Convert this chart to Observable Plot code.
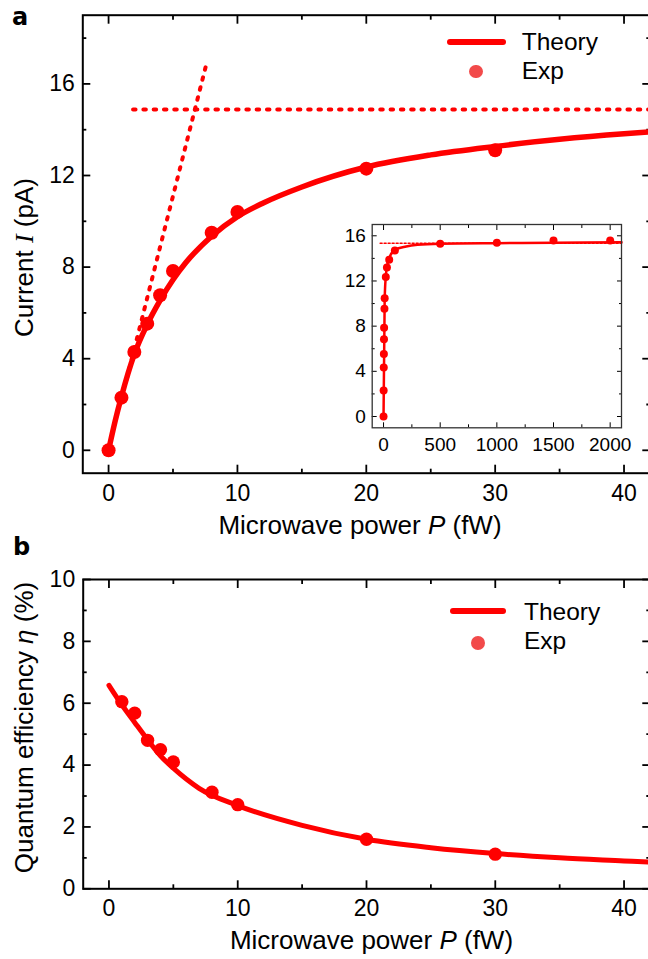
<!DOCTYPE html>
<html><head><meta charset="utf-8">
<script src="https://cdn.jsdelivr.net/npm/d3@7"></script>
<script src="https://cdn.jsdelivr.net/npm/@observablehq/plot@0.6"></script>
<style>
html,body{margin:0;padding:0;background:#fff;overflow:hidden}
#fig{position:relative;width:648px;height:959px;overflow:hidden;background:#fff;font-family:"Liberation Sans",Arial,Helvetica,sans-serif}
#fig > *{position:absolute}
.leg-line{height:6px;border-radius:3px;background:#ff0000}
.leg-dot{border-radius:50%;background:#f24a4a}
</style></head><body><div id="fig"></div>
<script>
// ---------- data ----------
// panel a: current vs microwave power
const powerExp = [0, 1, 2, 3, 4, 5, 8, 10, 20, 30];
const currentExp = [0, 2.30, 4.29, 5.53, 6.77, 7.83, 9.50, 10.41, 12.30, 13.10];
const powerTheory = [0, 0.5, 1, 2, 3, 4, 5, 6, 8, 10, 12, 15, 20, 25, 30, 35, 40, 42];
const currentTheory = [0, 1.25, 2.35, 4.2, 5.5, 6.55, 7.45, 8.2, 9.35, 10.2, 10.8, 11.5, 12.37, 12.9, 13.27, 13.58, 13.82, 13.9];
const slopePower = [1.4, 7.56];
const slopeCurrent = [3.1, 16.8];
const saturationPower = [1.9, 42];
const saturationCurrent = [14.88, 14.88];
// inset
const insetPowerExp = [0, 1, 2, 3, 4, 5, 8, 10, 20, 30, 50, 100, 500, 1000, 1500, 2000];
const insetCurrentExp = [0, 2.31, 4.33, 5.54, 6.84, 7.85, 9.54, 10.46, 12.36, 13.19, 13.87, 14.7, 15.29, 15.38, 15.59, 15.59];
const insetPowerTheory = [0, 10, 20, 30, 50, 100, 200, 300, 500, 1000, 1500, 2100];
const insetCurrentTheory = [0, 10.3, 12.4, 13.25, 14.0, 14.75, 15.05, 15.2, 15.3, 15.35, 15.38, 15.42];
const insetSatPower = [-30, 2100];
const insetSatCurrent = [15.35, 15.35];
// panel b: quantum efficiency
const effPowerExp = [1, 2, 3, 4, 5, 8, 10, 20, 30];
const effExp = [6.05, 5.68, 4.8, 4.5, 4.1, 3.12, 2.72, 1.6, 1.12];
const effPowerTheory = [0, 1, 2, 3, 4, 5, 7, 10, 15, 20, 25, 30, 35, 40, 42];
const effTheory = [6.58, 5.95, 5.38, 4.82, 4.3, 3.9, 3.25, 2.69, 2.05, 1.6, 1.33, 1.14, 1.0, 0.9, 0.86];
// ticks
const xMajor = [0, 10, 20, 30, 40];
const xMinor = [5, 15, 25, 35];
const yMajorA = [0, 4, 8, 12, 16];
const yMinorA = [2, 6, 10, 14, 18];
const yMajorB = [0, 2, 4, 6, 8, 10];
const yMinorB = [1, 3, 5, 7, 9];
const insetXMajor = [0, 500, 1000, 1500, 2000];
const insetXMinor = [250, 750, 1250, 1750];
const insetYMajor = [0, 4, 8, 12, 16];
const insetYMinor = [2, 6, 10, 14];

const RED = "#ff0000";
const FONT = '"Liberation Sans", Arial, Helvetica, sans-serif';
const none = () => "";
const plain = (d) => String(d);
const zip = (xs, ys) => xs.map((x, i) => ({x, y: ys[i]}));

function axes({xMaj, xMin, yMaj, yMin, major, minor, fontSize, xPad, yPad, sw}) {
  const common = {label: null, strokeWidth: sw, fontSize};
  return [
    Plot.axisX({...common, anchor: "bottom", ticks: xMaj, tickSize: -major, tickPadding: xPad, tickFormat: plain}),
    Plot.axisX({...common, anchor: "bottom", ticks: xMin, tickSize: -minor, tickFormat: none}),
    Plot.axisX({...common, anchor: "top", ticks: xMaj, tickSize: -major, tickFormat: none}),
    Plot.axisX({...common, anchor: "top", ticks: xMin, tickSize: -minor, tickFormat: none}),
    Plot.axisY({...common, anchor: "left", ticks: yMaj, tickSize: -major, tickPadding: yPad, tickFormat: plain}),
    Plot.axisY({...common, anchor: "left", ticks: yMin, tickSize: -minor, tickFormat: none}),
    Plot.axisY({...common, anchor: "right", ticks: yMaj, tickSize: -major, tickFormat: none}),
    Plot.axisY({...common, anchor: "right", ticks: yMin, tickSize: -minor, tickFormat: none})
  ];
}
const baseStyle = {fontFamily: FONT, color: "black", background: "transparent", maxWidth: "none", overflow: "visible"};

const fig = document.getElementById("fig");
function place(el, left, top) { el.style.left = left + "px"; el.style.top = top + "px"; fig.appendChild(el); }

// ---------- panel a ----------
const dotted = {stroke: RED, strokeWidth: 4, strokeDasharray: "2.5,7.8", strokeLinecap: "round"};
const plotA = Plot.plot({
  width: 660, height: 510,
  marginLeft: 82.3, marginRight: 10.7, marginTop: 14.7, marginBottom: 37.3,
  x: {domain: [-2, 42]}, y: {domain: [-1, 19]},
  style: {...baseStyle, fontSize: "23px"},
  marks: [
    ...axes({xMaj: xMajor, xMin: xMinor, yMaj: yMajorA, yMin: yMinorA, major: 8, minor: 4, fontSize: 23, xPad: 19.5, yPad: 16, sw: 1.8}),
    Plot.line(zip(saturationPower, saturationCurrent), {x: "x", y: "y", ...dotted}),
    Plot.line(zip(slopePower, slopeCurrent), {x: "x", y: "y", ...dotted}),
    Plot.line(zip(powerTheory, currentTheory), {x: "x", y: "y", curve: "monotone-x", stroke: RED, strokeWidth: 5.5, strokeLinejoin: "round"}),
    Plot.dot(zip(powerExp, currentExp), {x: "x", y: "y", r: 7, fill: RED}),
    Plot.frame({stroke: "black", strokeWidth: 2})
  ]
});
place(plotA, 0, 0);

// ---------- inset ----------
const plotInset = Plot.plot({
  width: 310, height: 245,
  marginLeft: 51.7, marginRight: 9, marginTop: 10, marginBottom: 31.7,
  x: {domain: [-100, 2100]}, y: {domain: [-1, 17]},
  style: {...baseStyle, fontSize: "19px"},
  marks: [
    Plot.frame({fill: "white"}),
    ...axes({xMaj: insetXMajor, xMin: insetXMinor, yMaj: insetYMajor, yMin: insetYMinor, major: 5, minor: 3, fontSize: 19, xPad: 14.2, yPad: 11.4, sw: 1}),
    Plot.line(zip(insetSatPower, insetSatCurrent), {x: "x", y: "y", stroke: RED, strokeWidth: 1.5, strokeDasharray: "2,2"}),
    Plot.line(zip(insetPowerTheory, insetCurrentTheory), {x: "x", y: "y", curve: "monotone-x", stroke: RED, strokeWidth: 2.5}),
    Plot.dot(zip(insetPowerExp, insetCurrentExp), {x: "x", y: "y", r: 4, fill: RED}),
    Plot.frame({stroke: "#333", strokeWidth: 1.3})
  ]
});
place(plotInset, 320, 214);

// ---------- panel b ----------
const plotB = Plot.plot({
  width: 660, height: 370,
  marginLeft: 82.7, marginRight: 10.7, marginTop: 19, marginBottom: 41.7,
  x: {domain: [-2, 42]}, y: {domain: [0, 10]},
  style: {...baseStyle, fontSize: "23px"},
  marks: [
    ...axes({xMaj: xMajor, xMin: xMinor, yMaj: yMajorB, yMin: yMinorB, major: 8, minor: 4, fontSize: 23, xPad: 19.3, yPad: 16, sw: 1.8}),
    Plot.line(zip(effPowerTheory, effTheory), {x: "x", y: "y", curve: "monotone-x", stroke: RED, strokeWidth: 5}),
    Plot.dot(zip(effPowerExp, effExp), {x: "x", y: "y", r: 6.7, fill: RED}),
    Plot.frame({stroke: "black", strokeWidth: 2})
  ]
});
place(plotB, 0, 560);

// ---------- legends (swatches) ----------
function legLine(x1, x2, y) { const d = document.createElement("div"); d.className = "leg-line"; d.style.width = (x2 - x1) + "px"; place(d, x1, y - 3); }
function legDot(cx, cy, r) { const d = document.createElement("div"); d.className = "leg-dot"; d.style.width = d.style.height = (2 * r) + "px"; place(d, cx - r, cy - r); }
legLine(446.7, 506, 41.7); legDot(476, 71.7, 6.8);
legLine(449.6, 506, 611); legDot(478, 642.7, 6.9);

// ---------- text overlay ----------
const NS = "http://www.w3.org/2000/svg";
const ov = document.createElementNS(NS, "svg");
ov.setAttribute("width", 648); ov.setAttribute("height", 959);
ov.style.pointerEvents = "none";
ov.innerHTML = `
<g font-family='${FONT}' fill="black">
  <text x="12" y="25" font-size="24" font-weight="bold" font-family="DejaVu Sans, sans-serif">a</text>
  <text x="13" y="555" font-size="24" font-weight="bold" font-family="DejaVu Sans, sans-serif">b</text>
  <text x="360" y="534" font-size="26" text-anchor="middle">Microwave power <tspan font-style="italic">P</tspan> (fW)</text>
  <text x="371.5" y="949" font-size="26" text-anchor="middle">Microwave power <tspan font-style="italic">P</tspan> (fW)</text>
  <text transform="translate(33,257.5) rotate(-90)" font-size="26" text-anchor="middle">Current <tspan font-style="italic" font-family="Liberation Serif, Times New Roman, serif">I</tspan> (pA)</text>
  <text transform="translate(33,727.5) rotate(-90)" font-size="26" text-anchor="middle">Quantum efficiency <tspan font-style="italic">η</tspan> (%)</text>
  <text x="521.7" y="50" font-size="24.5">Theory</text>
  <text x="521.7" y="78.5" font-size="24.5">Exp</text>
  <text x="524" y="619.5" font-size="24.5">Theory</text>
  <text x="524" y="649" font-size="24.5">Exp</text>
</g>`;
place(ov, 0, 0);
</script></body></html>
